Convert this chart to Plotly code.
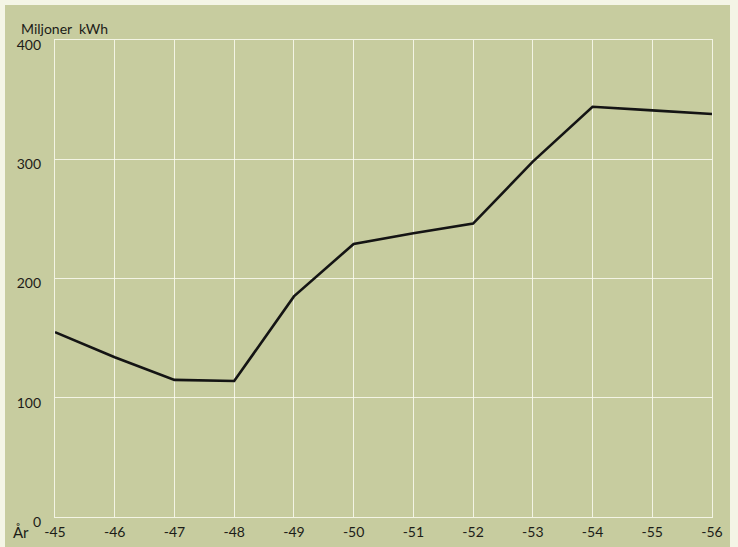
import plotly.graph_objects as go

years = [1945, 1946, 1947, 1948, 1949, 1950, 1951, 1952, 1953, 1954, 1955, 1956]
year_labels = ["-45", "-46", "-47", "-48", "-49", "-50", "-51", "-52", "-53", "-54", "-55", "-56"]
kwh_millions = [155, 134, 115, 114, 185, 229, 238, 246, 298, 344, 341, 338]
y_ticks = [0, 100, 200, 300, 400]

BG = "#c7cc9f"
EDGE = "#f4f5e6"
GRID = "rgba(250,250,240,0.85)"
FONT = "Lato, 'Open Sans', sans-serif"
TXT = "#1c1c18"

fig = go.Figure()
fig.add_trace(go.Scatter(
    x=years, y=kwh_millions, mode="lines",
    line=dict(color="#141414", width=2.6),
    hoverinfo="skip", showlegend=False,
))

fig.update_layout(
    width=738, height=547,
    margin=dict(l=55, r=26, t=40, b=30, autoexpand=False),
    paper_bgcolor=BG, plot_bgcolor=BG,
    font=dict(family=FONT, size=14, color=TXT),
    xaxis=dict(
        range=[years[0], years[-1]], automargin=False,
        tickmode="array", tickvals=years, ticktext=year_labels,
        showgrid=True, gridcolor=GRID, gridwidth=1.3,
        showline=True, linecolor=GRID, linewidth=1.3, mirror=True,
        zeroline=False, ticks="", ticklabelstandoff=2,
        tickfont=dict(family=FONT, size=14, color=TXT),
    ),
    yaxis=dict(
        range=[0, 400], automargin=False,
        tickmode="array", tickvals=y_ticks,
        showgrid=True, gridcolor=GRID, gridwidth=1.3,
        showline=True, linecolor=GRID, linewidth=1.3, mirror=True,
        zeroline=False, ticks="", ticklabelstandoff=10, ticklabelshift=5,
        tickfont=dict(family=FONT, size=14, color=TXT),
    ),
    shapes=[
        dict(type="rect", xref="paper", yref="paper", x0=-0.2, x1=1.2,
             y0=1.0 + 35 / 477, y1=1.3, fillcolor=EDGE, line=dict(width=0), layer="above"),
        dict(type="rect", xref="paper", yref="paper", x0=1.0 + 18 / 657, x1=1.2,
             y0=-0.2, y1=1.3, fillcolor=EDGE, line=dict(width=0), layer="above"),
        dict(type="rect", xref="paper", yref="paper", x0=-0.2, x1=-50 / 657,
             y0=-0.2, y1=1.3, fillcolor=EDGE, line=dict(width=0), layer="above"),
    ],
    annotations=[
        dict(text="Miljoner  kWh", xref="paper", yref="paper", x=-36 / 657, y=1.0 + 12 / 477,
             xanchor="left", yanchor="middle", showarrow=False,
             font=dict(family=FONT, size=14, color=TXT)),
        dict(text="År", xref="paper", yref="paper", x=-44 / 657, y=-15 / 477,
             xanchor="left", yanchor="middle", showarrow=False,
             font=dict(family=FONT, size=15, color=TXT)),
    ],
)

fig.write_html(
    "out.html",
    config={"displayModeBar": False},
    post_script="document.body.style.margin='0';document.body.style.background='#c7cc9f';",
)
